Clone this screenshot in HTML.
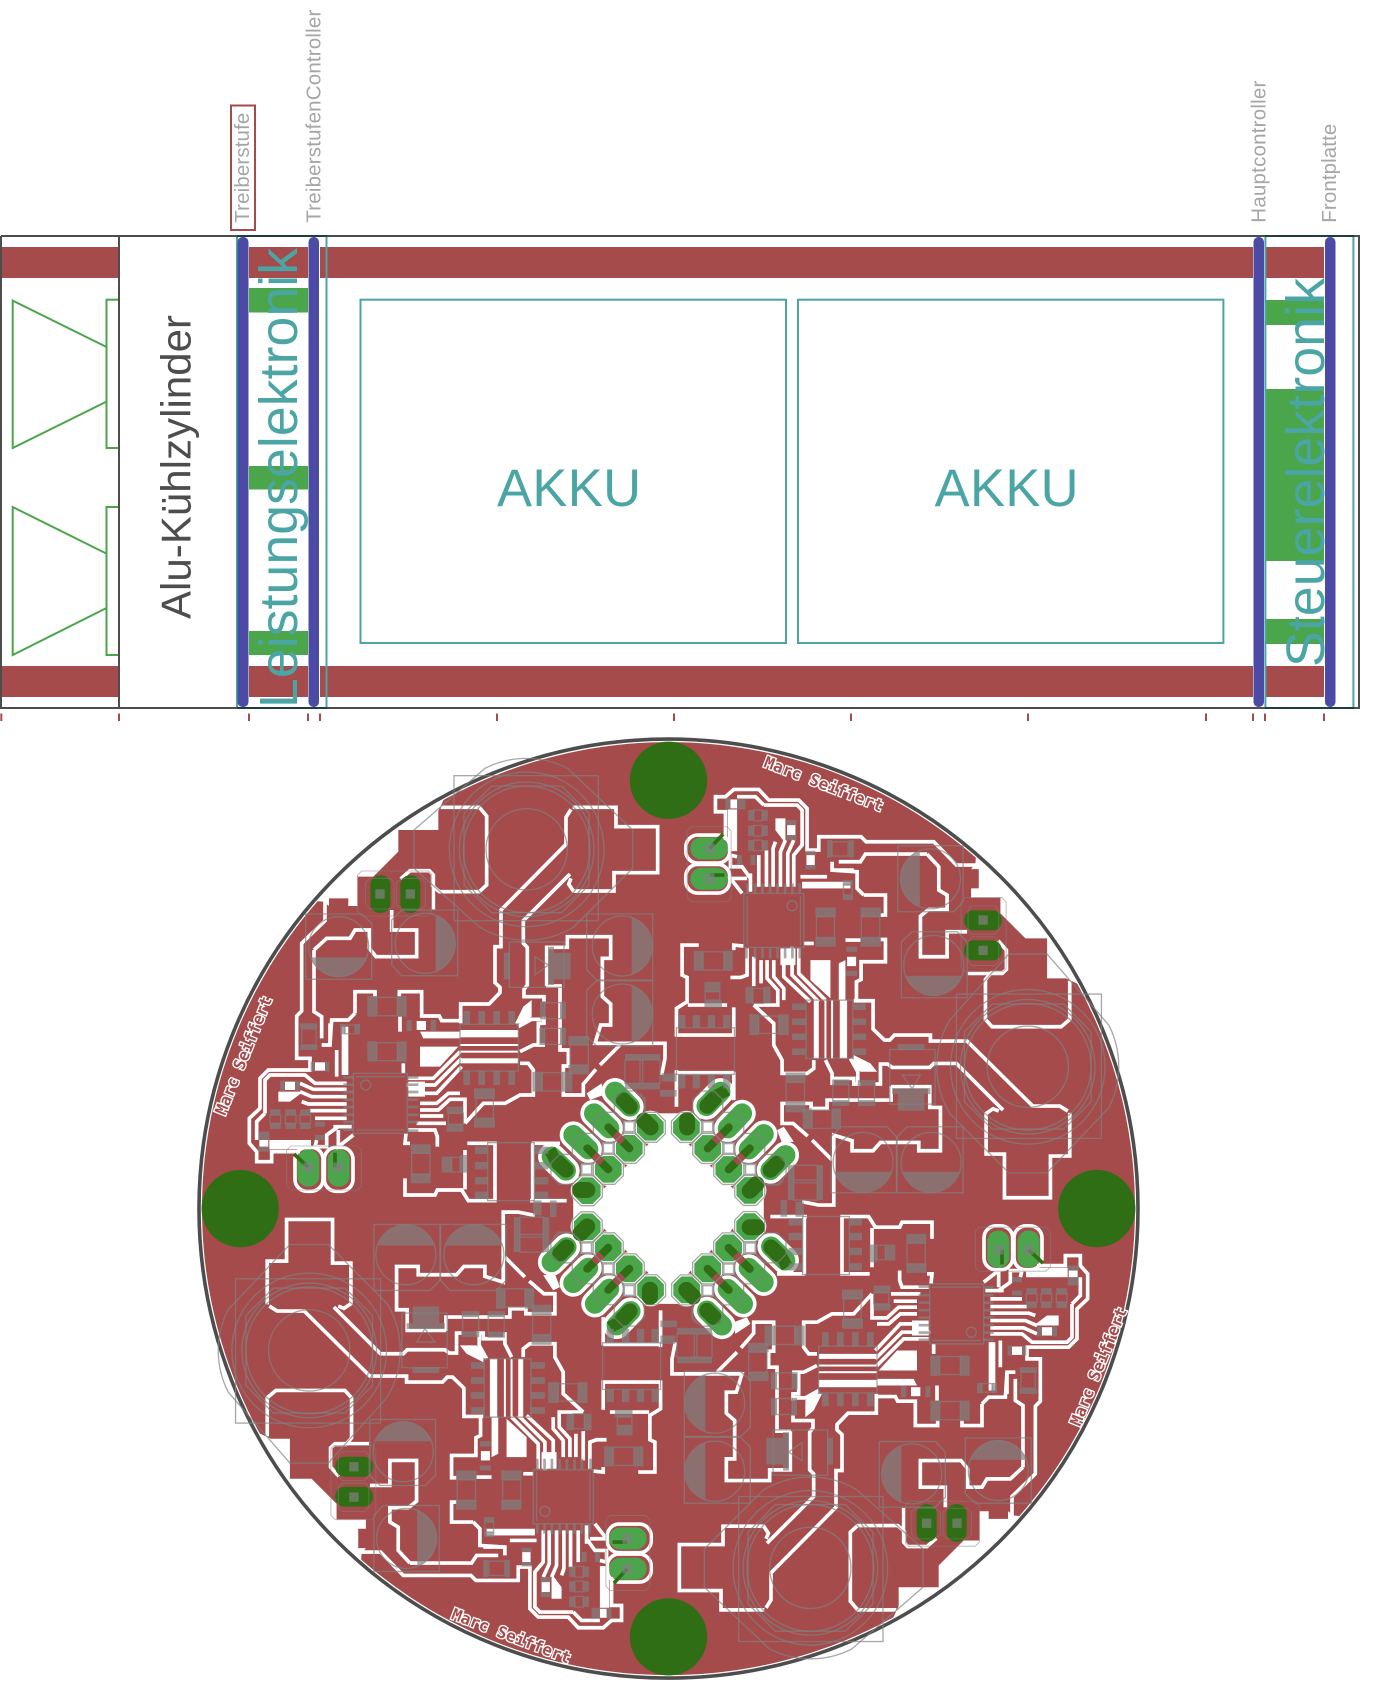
<!DOCTYPE html>
<html><head><meta charset="utf-8"><style>
html,body{margin:0;padding:0;background:#fff}
svg{display:block}
text{font-family:"Liberation Sans",sans-serif}
.w{fill:none;stroke:#fff;stroke-width:11;stroke-linejoin:miter}
.wf{fill:#fff;stroke:none}
.s{fill:none;stroke:#818181;stroke-opacity:.69;stroke-width:4}
.f{fill:#818181;fill-opacity:.69;stroke:none}
.t{fill:none;stroke:#818181;stroke-opacity:.6;stroke-width:2.5}
.m{font-family:"DejaVu Sans Mono","Liberation Mono",monospace;font-size:16px;font-weight:bold;fill:#a54b4b;stroke:#fff;stroke-width:2.6px;paint-order:stroke}
</style></head><body>
<svg xmlns="http://www.w3.org/2000/svg" width="1374" height="1682" viewBox="0 0 1374 1682">
<defs>
<g id="wl" transform="translate(190,730) scale(.33333)">
<polygon class="wf" points="770,190 745,243 745,300 625,300 625,365 550,440 503,440 503,528 475,528 475,505 417,505 417,528 400,515 200,500 500,100"/>
<polygon class="wf" points="1190,1090 1235,1060 1240,1095 1200,1110"/>
<rect class="wf" x="1405" y="1150" width="60" height="50"/>
<g class="w">
<path d="M752,232H868L890,258V465L868,485H748L728,468V430"/>
<path d="M632,447L660,422H718L730,435V538"/>
<path d="M1148,232H1278V290H1403V428H1272V483H1150L1136,462L1143,445"/>
<path d="M1143,238L1128,262V343L933,540V650H915V758L930,772V788L897,822H812V880"/>
<path d="M1140,432L1000,572V640L1012,652V765L1002,778V800H1062V815"/>
<path d="M1070,768V652H1132V620H1262V685H1237V800L1262,822V885H1232L1215,940H1425V985L1415,1035"/>
<path d="M1068,768H1110V960H1135V1008H1120V1095H1180V1062L1218,1018"/>
<path d="M1230,1005L1290,945"/>
<path d="M1065,868H1025L985,890M1065,945H1030L990,965"/>
<path d="M990,1000H1015L1030,1020V1095H990L945,1120H880L825,1180"/>
<path d="M405,515V572L335,640V843L320,858V985H360V1020H235L210,1045V1135L178,1165V1240L200,1265V1295H245V1265H330"/>
<path d="M372,660L410,625H480L495,600H538V655L558,680H680V600H605V540"/>
<path d="M372,660V845L395,860V925"/>
<path d="M225,1150V1050L240,1035H345L375,1060H470M225,1150L200,1175V1230"/>
<path d="M495,850V785H555V800M495,850L475,870H425L420,945H395"/>
<path d="M628,800V785H695V858H748L755,872H810"/>
<path d="M630,860V905"/>
<path d="M640,1000V1030"/>
<path d="M655,1045H730L810,965M650,1065H735L815,985M690,1090H740L815,1010"/>
<path d="M690,1120H740L775,1090H810M690,1140H745L780,1108H825V1180M690,1158H760M680,1180H768"/>
<path d="M655,1200H735L742,1220V1250M648,1210L645,1240H660"/>
<path d="M645,1345V1395H735L742,1380H815L835,1412H920"/>
<path d="M825,1260V1378M832,1240H915V1410"/>
<path d="M1028,1240V1412"/>
<path d="M330,1060L370,1078H470M330,1085L365,1100H470M335,1115L355,1122H470M360,1142H470M375,1165H470"/>
<path d="M430,1190H485M445,1200V1250L490,1215M380,1230L375,1250H410V1215L445,1190"/>
<path d="M420,880V945M440,960V1040"/>
<path d="M1062,860V880H1045V945"/>
<rect x="315" y="1252" width="84" height="132" rx="36"/>
<rect x="403" y="1252" width="86" height="132" rx="36"/>
<path d="M1025,1240H1110M1020,1412H1130"/>
</g>
<rect class="wf" x="810" y="900" width="175" height="22"/>
<rect class="wf" x="810" y="942" width="175" height="6"/>
<rect class="wf" x="810" y="962" width="175" height="6"/>
<rect class="wf" x="810" y="985" width="175" height="15"/>
<rect class="wf" x="455" y="890" width="20" height="145"/>
<polygon class="wf" points="690,905 810,905 810,925 700,925"/>
<polygon class="wf" points="690,950 805,950 750,1010 690,1010"/>
<polygon class="wf" points="655,1055 705,1055 705,1100 655,1100"/>
<polygon class="wf" points="975,880 1000,830 1025,810 1025,860 1000,882"/>
<polygon class="wf" points="265,1085 340,1085 300,1115 265,1115"/>
<rect class="wf" x="238" y="1230" width="125" height="28"/>
<rect class="wf" x="375" y="997" width="30" height="25"/>
<rect class="wf" x="680" y="873" width="28" height="27"/>
<rect class="wf" x="285" y="1055" width="30" height="25"/>
<rect class="wf" x="208" y="1230" width="27" height="20"/>
<g fill="none" stroke="#fff" stroke-width="82" stroke-linecap="round">
<path d="M1275,1085L1320,1130M1212,1150L1258,1195M1150,1215L1195,1258M1085,1280L1128,1322"/>
</g>
<g fill="#fff">
<circle cx="1381" cy="1192" r="50"/><circle cx="1318" cy="1255" r="50"/><circle cx="1255" cy="1318" r="50"/><circle cx="1192" cy="1382" r="50"/>
</g>
</g>
<g id="gl" transform="translate(190,730) scale(.33333)">
<g fill="none" stroke="#4ba54b" stroke-width="60" stroke-linecap="round">
<path d="M1275,1085L1320,1130M1212,1150L1258,1195M1150,1215L1195,1258M1085,1280L1128,1322"/>
</g>
<g fill="#4ba54b">
<polygon points="1365,1152 1397,1152 1421,1176 1421,1208 1397,1232 1365,1232 1341,1208 1341,1176"/>
<polygon points="1302,1215 1334,1215 1358,1239 1358,1271 1334,1295 1302,1295 1278,1271 1278,1239"/>
<polygon points="1239,1278 1271,1278 1295,1302 1295,1334 1271,1358 1239,1358 1215,1334 1215,1302"/>
<polygon points="1176,1342 1208,1342 1232,1366 1232,1398 1208,1422 1176,1422 1152,1398 1152,1366"/>
<rect x="322" y="1258" width="66" height="112" rx="32"/>
<rect x="413" y="1258" width="66" height="112" rx="32"/>
</g>
<g fill="none" stroke="#2f6e14" stroke-linecap="round">
<path stroke-width="48" d="M1362,1172L1382,1192M1170,1380H1192"/>
<path stroke-width="46" d="M1300,1110L1320,1130M1105,1298L1128,1320"/>
<path stroke-width="24" d="M1255,1192L1318,1255M1192,1255L1255,1318"/>
<path stroke-width="11" stroke-linecap="butt" d="M312,1272L355,1312M435,1268V1312"/>
</g>
<path d="M1275,1212L1298,1235M1212,1275L1235,1298" stroke="#a54b4b" stroke-width="24" fill="none"/>
<rect x="541" y="436" width="60" height="113" rx="28" fill="#2f6e14"/>
<rect x="631" y="436" width="60" height="113" rx="28" fill="#2f6e14"/>
<polygon points="1065,1270 1095,1250 1115,1290 1085,1310" fill="#2f6e14"/>
<circle cx="1435.5" cy="151" r="116" fill="#2f6e14"/>
</g>
<g id="sl" transform="translate(190,730) scale(.33333)">
<g class="s">
<rect x="792" y="137" width="433" height="435"/>
<circle cx="1010" cy="358" r="122"/><circle cx="1010" cy="358" r="190"/><circle cx="1010" cy="358" r="202"/><circle cx="1010" cy="358" r="232"/>
<path d="M905,168H1115L1197,250V465L1115,548H905L822,465V250Z"/>
<path d="M672,300L885,115A272,272 0 0 1 1133,115L1328,300V415L1150,592A272,272 0 0 1 870,592L672,415Z"/>
<path d="M347,552H515L545,580V748H347Z"/><circle cx="446" cy="650" r="90"/>
<path d="M605,570L635,540H803V737H635L605,705Z"/><circle cx="706" cy="640" r="90"/>
<path d="M1190,552H1388V750H1220L1190,720Z"/><circle cx="1297" cy="648" r="90"/>
<path d="M1190,780L1220,752H1388V948H1220L1190,920Z"/><circle cx="1297" cy="852" r="90"/>
<rect x="958" y="636" width="164" height="136"/>
<path d="M1075,705L1035,680V735Z"/>
<rect x="560" y="802" width="62" height="55"/><rect x="560" y="938" width="62" height="54"/>
<rect x="335" y="897" width="43" height="48"/>
<rect x="465" y="885" width="30" height="26"/>
<rect x="1065" y="818" width="47" height="48"/><rect x="1064" y="895" width="48" height="48"/>
<rect x="1140" y="945" width="55" height="60"/>
<rect x="1057" y="1028" width="60" height="55"/>
<rect x="1305" y="990" width="105" height="70"/><path d="M1350,990V1060M1358,990V1060"/>
<rect x="810" y="883" width="175" height="140"/>
<rect x="490" y="1030" width="162" height="180"/><path d="M498,1040H645M498,1200H645"/>
<circle cx="527" cy="1065" r="15"/>
<rect x="775" y="1150" width="45" height="33"/>
<rect x="858" y="1105" width="52" height="60"/>
<rect x="665" y="1270" width="55" height="62"/>
<rect x="785" y="1282" width="25" height="44"/>
<rect x="893" y="1238" width="140" height="174"/>
<rect x="240" y="1155" width="32" height="25"/><rect x="286" y="1155" width="32" height="25"/><rect x="330" y="1155" width="32" height="25"/>
<path d="M1350,1090L1365,1105V1140M1345,1170"/>
</g>
<g class="t">
<path d="M515,423H715L725,433V545L712,558H515L502,545V436Z"/>
<path d="M540,445H600L612,457V527L600,537H540L527,525V457Z"/>
<path d="M635,445H695L706,457V527L695,537H635L620,525V457Z"/>
<path d="M303,1248H503L515,1260V1368L503,1380H303L290,1368V1260Z"/>
</g>
<g class="f">
<path d="M362,682H530A90,90 0 0 1 362,682Z"/>
<path d="M737,556V724A90,90 0 0 0 737,556Z"/>
<path d="M1325,563V733A90,90 0 0 0 1325,563Z"/>
<path d="M1325,767V937A90,90 0 0 0 1325,767Z"/>
<rect x="942" y="668" width="18" height="80"/><rect x="1074" y="650" width="18" height="115"/><rect x="1092" y="668" width="50" height="80"/>
<rect x="532" y="798" width="28" height="62"/><rect x="622" y="798" width="28" height="62"/>
<rect x="532" y="934" width="28" height="61"/><rect x="622" y="934" width="28" height="61"/>
<rect x="450" y="882" width="15" height="31"/><rect x="495" y="882" width="15" height="31"/>
<rect x="330" y="880" width="52" height="15"/><rect x="330" y="945" width="52" height="15"/>
<rect x="362" y="995" width="13" height="30"/><rect x="405" y="995" width="13" height="30"/>
<rect x="650" y="870" width="15" height="33"/><rect x="722" y="870" width="16" height="33"/>
<rect x="270" y="1052" width="15" height="30"/><rect x="315" y="1052" width="15" height="30"/>
<rect x="820" y="843" width="20" height="40"/><rect x="865" y="843" width="20" height="40"/><rect x="910" y="843" width="20" height="40"/><rect x="955" y="843" width="20" height="40"/>
<rect x="820" y="1023" width="20" height="42"/><rect x="865" y="1023" width="20" height="42"/><rect x="910" y="1023" width="20" height="42"/><rect x="955" y="1023" width="20" height="42"/>
<rect x="1050" y="815" width="15" height="53"/><rect x="1112" y="815" width="16" height="53"/>
<rect x="1048" y="893" width="16" height="52"/><rect x="1112" y="893" width="16" height="52"/>
<rect x="1135" y="918" width="62" height="27"/><rect x="1135" y="1005" width="62" height="28"/>
<rect x="1027" y="1025" width="30" height="60"/><rect x="1117" y="1025" width="30" height="60"/>
<rect x="1305" y="972" width="105" height="18"/><rect x="1305" y="1060" width="105" height="18"/>
<rect x="1415" y="1030" width="45" height="25"/><rect x="1410" y="1080" width="50" height="20"/>
<path d="M460,1038h30v8h-30zM460,1060h30v8h-30zM460,1082h30v8h-30zM460,1105h30v8h-30zM460,1127h30v8h-30zM460,1150h30v8h-30zM460,1172h30v8h-30zM460,1195h30v8h-30z"/>
<path d="M652,1038h33v8h-33zM652,1060h33v8h-33zM652,1082h33v8h-33zM652,1105h33v8h-33zM652,1127h33v8h-33zM652,1150h33v8h-33zM652,1172h33v8h-33zM652,1198h33v8h-33z"/>
<rect x="770" y="1130" width="50" height="20"/><rect x="770" y="1183" width="50" height="22"/>
<rect x="852" y="1075" width="63" height="30"/><rect x="852" y="1165" width="63" height="28"/>
<rect x="240" y="1138" width="32" height="17"/><rect x="240" y="1180" width="32" height="17"/>
<rect x="286" y="1138" width="32" height="17"/><rect x="286" y="1180" width="32" height="17"/>
<rect x="330" y="1138" width="32" height="17"/><rect x="330" y="1180" width="32" height="17"/>
<rect x="205" y="1205" width="33" height="25"/><rect x="205" y="1250" width="33" height="15"/>
<rect x="375" y="1175" width="30" height="15"/><rect x="375" y="1215" width="30" height="15"/>
<rect x="662" y="1243" width="60" height="27"/><rect x="662" y="1332" width="60" height="28"/>
<rect x="755" y="1280" width="30" height="48"/><rect x="810" y="1275" width="22" height="53"/>
<path d="M855,1250h38v22h-38zM855,1296h38v22h-38zM855,1341h38v22h-38zM855,1385h38v22h-38z"/>
<path d="M1033,1250h42v22h-42zM1033,1296h42v22h-42zM1033,1341h42v22h-42zM1033,1385h42v22h-42z"/>
<rect x="556" y="478" width="28" height="28"/><rect x="647" y="478" width="28" height="28"/>
<rect x="340" y="1298" width="30" height="28"/><rect x="430" y="1298" width="30" height="28"/>
</g>
<g class="s">
<polygon points="1362,1147 1400,1147 1426,1173 1426,1211 1400,1237 1362,1237 1336,1211 1336,1173"/>
<polygon points="1299,1210 1337,1210 1363,1236 1363,1274 1337,1300 1299,1300 1273,1274 1273,1236"/>
<polygon points="1236,1273 1274,1273 1300,1299 1300,1337 1274,1363 1236,1363 1210,1337 1210,1299"/>
<polygon points="1173,1337 1211,1337 1237,1363 1237,1401 1211,1427 1173,1427 1147,1401 1147,1363"/>
<polygon points="1299,1083 1337,1083 1363,1109 1363,1147 1337,1173 1299,1173 1273,1147 1273,1109"/>
<polygon points="1236,1147 1274,1147 1300,1173 1300,1211 1274,1237 1236,1237 1210,1211 1210,1173"/>
<polygon points="1173,1210 1211,1210 1237,1236 1237,1274 1211,1300 1173,1300 1147,1274 1147,1236"/>
<polygon points="1109,1273 1147,1273 1173,1299 1173,1337 1147,1363 1109,1363 1083,1337 1083,1299"/>
</g>
<g fill="#fff" stroke="#a8a8a8" stroke-width="5">
<rect x="1303" y="1175" width="30" height="30"/><rect x="1240" y="1240" width="30" height="30"/><rect x="1175" y="1303" width="30" height="30"/>
</g>
</g>
</defs>

<!-- side view -->
<rect x="1.3" y="247" width="117.7" height="31" fill="#a54b4b"/>
<rect x="249" y="247" width="59" height="31" fill="#a54b4b"/>
<rect x="320" y="247" width="933" height="31" fill="#a54b4b"/>
<rect x="1265.5" y="247" width="58.5" height="31" fill="#a54b4b"/>
<rect x="1.3" y="666" width="117.7" height="31" fill="#a54b4b"/>
<rect x="249" y="666" width="59" height="31" fill="#a54b4b"/>
<rect x="320" y="666" width="933" height="31" fill="#a54b4b"/>
<rect x="1265.5" y="666" width="58.5" height="31" fill="#a54b4b"/>
<rect x="249" y="288" width="59" height="24.5" fill="#4ba54b"/>
<rect x="249" y="466" width="59" height="23.5" fill="#4ba54b"/>
<rect x="249" y="631" width="59" height="24" fill="#4ba54b"/>
<rect x="1265.5" y="300" width="58.5" height="25" fill="#4ba54b"/>
<rect x="1265.5" y="389" width="58.5" height="172" fill="#4ba54b"/>
<rect x="1265.5" y="619" width="58.5" height="25" fill="#4ba54b"/>
<g fill="none" stroke="#4ba54b" stroke-width="2">
<path d="M106.5,347L12.7,300.6V448L106.5,401.6"/><rect x="106.5" y="299.7" width="12.5" height="148.3"/>
<path d="M106.5,553.6L12.7,507V655L106.5,608"/><rect x="106.5" y="507" width="12.5" height="148"/>
</g>
<g fill="none" stroke="#4ba5a5" stroke-width="2">
<rect x="237" y="236" width="89.5" height="472"/>
<rect x="1265.4" y="236" width="88" height="472"/>
<rect x="360.5" y="299.7" width="425.5" height="343.3"/>
<rect x="798" y="299.7" width="425.4" height="343.3"/>
</g>
<path d="M237,236H327M237,708H327M1265,236H1354M1265,708H1354" stroke="#1f3f3f" stroke-width="2"/>
<path d="M1,236H237M327,236H1265M1354,236H1359V708H1354M1265,708H327M237,708H1V236M119,236V708" fill="none" stroke="#4d4d4d" stroke-width="2"/>
<g fill="#4b4ba5">
<rect x="237.5" y="237" width="11" height="470" rx="5"/>
<rect x="308.5" y="237" width="10.5" height="470" rx="5"/>
<rect x="1253.5" y="237" width="10.5" height="470" rx="5"/>
<rect x="1325" y="237" width="10.5" height="470" rx="5"/>
</g>
<text transform="translate(297,708) rotate(-90)" font-size="53.5" fill="#4ba5a5" textLength="460">Leistungselektronik</text>
<text transform="translate(1324,667) rotate(-90)" font-size="53.5" fill="#4ba5a5" textLength="389">Steuerelektronik</text>
<text transform="translate(190.6,619) rotate(-90)" font-size="42" fill="#4d4d4d" textLength="304">Alu-Kühlzylinder</text>
<text x="497" y="506" font-size="52.5" fill="#4ba5a5" textLength="144">AKKU</text>
<text x="934.6" y="506" font-size="52.5" fill="#4ba5a5" textLength="144">AKKU</text>
<rect x="231" y="105.5" width="24" height="124.5" fill="none" stroke="#a54b4b" stroke-width="2"/>
<g font-size="20.5" fill="#a6a6a6">
<text transform="translate(249,222.7) rotate(-90)" textLength="110">Treiberstufe</text>
<text transform="translate(320.3,222.7) rotate(-90)" textLength="213">TreiberstufenController</text>
<text transform="translate(1265.5,222.7) rotate(-90)" textLength="142">Hauptcontroller</text>
<text transform="translate(1336,222.7) rotate(-90)" textLength="99">Frontplatte</text>
</g>
<g stroke="#a54b4b" stroke-width="2">
<path d="M1.3,713.5V721M119,713.5V721M249,713.5V721M308,713.5V721M320,713.5V721M497,713.5V721M674,713.5V721M851,713.5V721M1028,713.5V721M1206,713.5V721M1253,713.5V721M1265,713.5V721M1324,713.5V721"/>
</g>

<!-- board -->
<circle cx="668.5" cy="1208.6" r="466.5" fill="#a54b4b"/>
<use href="#wl"/><use href="#wl" transform="rotate(90 668.5 1208.6)"/><use href="#wl" transform="rotate(180 668.5 1208.6)"/><use href="#wl" transform="rotate(270 668.5 1208.6)"/>
<polygon points="668.5,1124 753,1208.6 668.5,1293 584,1208.6" fill="#fff"/>
<use href="#gl"/><use href="#gl" transform="rotate(90 668.5 1208.6)"/><use href="#gl" transform="rotate(180 668.5 1208.6)"/><use href="#gl" transform="rotate(270 668.5 1208.6)"/>
<circle cx="668.5" cy="1208.6" r="469.5" fill="none" stroke="#4d4d4d" stroke-width="3.6"/>
<use href="#sl"/><use href="#sl" transform="rotate(90 668.5 1208.6)"/><use href="#sl" transform="rotate(180 668.5 1208.6)"/><use href="#sl" transform="rotate(270 668.5 1208.6)"/>
<text class="m" transform="translate(225,1116) rotate(-68)" textLength="126">Marc Seiffert</text>
<text class="m" transform="translate(1080,1427) rotate(-68)" textLength="126">Marc Seiffert</text>
<text class="m" transform="translate(763,766.5) rotate(21)" textLength="126">Marc Seiffert</text>
<text class="m" transform="translate(450.5,1618.5) rotate(21)" textLength="126">Marc Seiffert</text>
</svg>
</body></html>
